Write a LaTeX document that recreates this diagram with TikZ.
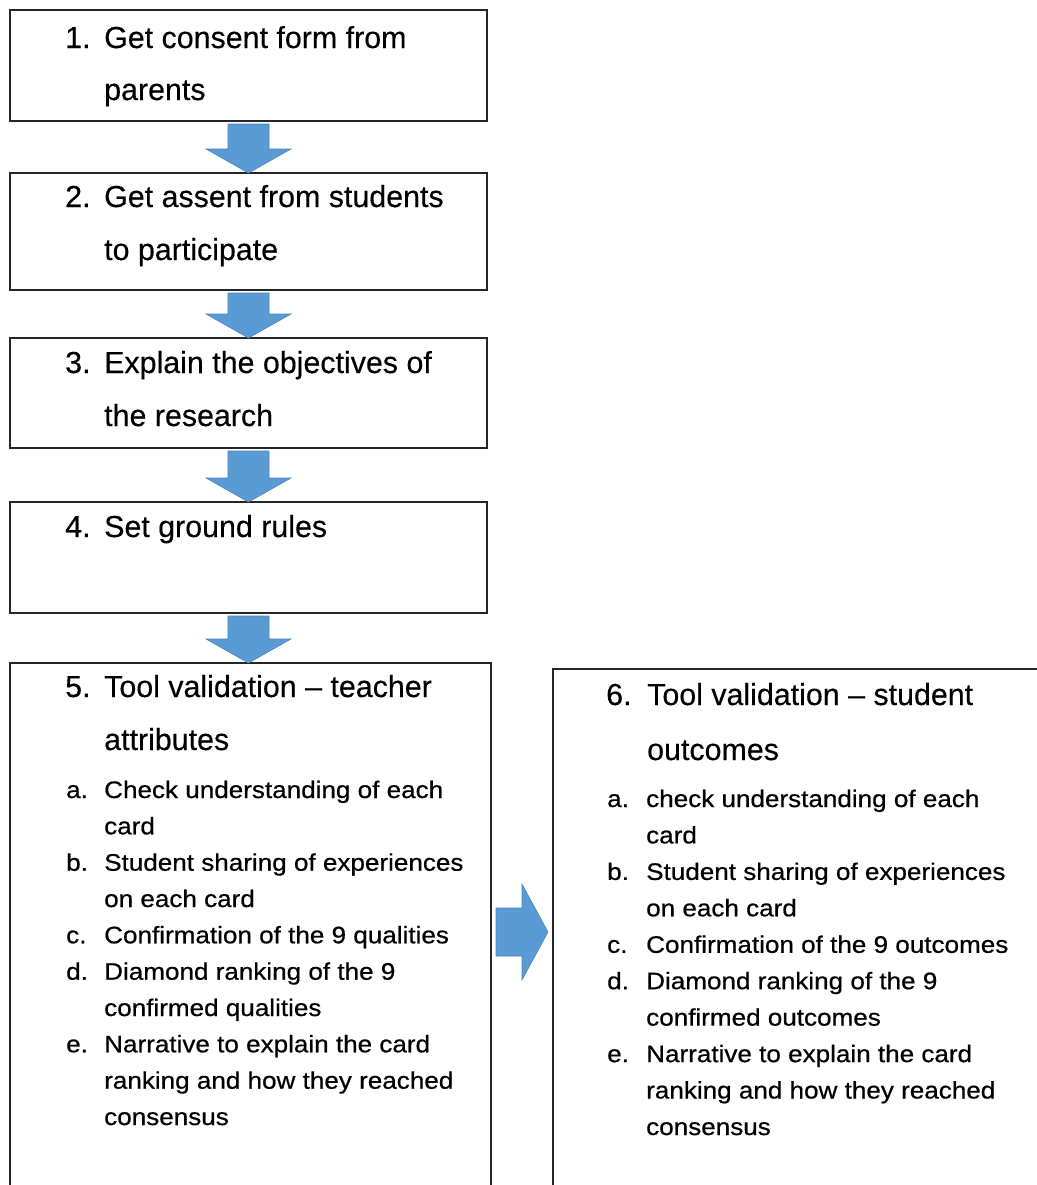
\documentclass[tikz,border=0pt]{standalone}
\usepackage{fontspec}
\setmainfont{Liberation Sans}
\newfontfamily\mainfnt{Liberation Sans}[FakeBold=0.3]
\newfontfamily\subfnt{Liberation Sans}[FakeStretch=1.09,FakeBold=0.6]
\usetikzlibrary{calc}
\definecolor{arrowblue}{HTML}{5B9BD5}
\definecolor{arrowedge}{HTML}{4A84BC}
\tikzset{
  box/.style={draw=black!85, line width=2bp, inner sep=0pt, outer sep=0pt, anchor=north west},
  mainline/.style={anchor=base west, inner sep=0pt, font=\mainfnt\fontsize{30.5}{36}\selectfont},
  subline/.style={anchor=base west, inner sep=0pt, font=\subfnt\fontsize{24}{30}\selectfont},
  blockarrow/.style={fill=arrowblue, draw=arrowedge, line width=0.6bp, line join=miter},
}
% down block arrow from node #1 to node #2
\newcommand{\blockdown}[2]{%
  \path[blockarrow] let \p1=(#1.south), \p2=(#2.north) in
    (\x1-20.5bp,\y1-3bp) -- (\x1+20.5bp,\y1-3bp) -- (\x1+20.5bp,\y2+24bp)
    -- (\x1+42.5bp,\y2+24bp) -- (\x1,\y2) -- (\x1-42.5bp,\y2+24bp)
    -- (\x1-20.5bp,\y2+24bp) -- cycle;}
\begin{document}
\begin{tikzpicture}[x=1bp,y=-1bp]
\useasboundingbox (0,0) rectangle (1037,1185);
\clip (0,0) rectangle (1037,1185);
\fill[white] (0,0) rectangle (1037,1185);
% boxes
\node[box, minimum width=477bp, minimum height=111bp] (b1) at (10,10) {};
\node[box, minimum width=477bp, minimum height=117bp] (b2) at (10,173) {};
\node[box, minimum width=477bp, minimum height=110bp] (b3) at (10,338) {};
\node[box, minimum width=477bp, minimum height=111bp] (b4) at (10,502) {};
\node[box, minimum width=481bp, minimum height=540bp] (b5) at (10,663) {};
\node[box, minimum width=500bp, minimum height=540bp] (b6) at (553,669) {};
% arrows
\blockdown{b1}{b2}
\blockdown{b2}{b3}
\blockdown{b3}{b4}
\blockdown{b4}{b5}
\coordinate (ra) at (b5.east |- 0,932);
\coordinate (rb) at (b6.west |- 0,932);
\path[blockarrow] let \p1=(ra), \p2=(rb) in
  (\x1+5bp,\y1+24bp) -- (\x2-31bp,\y1+24bp) -- (\x2-31bp,\y1+48bp)
  -- (\x2-5bp,\y1) -- (\x2-31bp,\y1-48bp) -- (\x2-31bp,\y1-24bp)
  -- (\x1+5bp,\y1-24bp) -- cycle;
% box 1
\node[mainline] (n1) at (65,48) {1.};
\node[mainline] (t1a) at (104,48) {Get consent form from};
\node[mainline] (t1b) at (104,100) {parents};
% box 2
\node[mainline] (n2) at (65,207) {2.};
\node[mainline] (t2a) at (104,207) {Get assent from students};
\node[mainline] (t2b) at (104,260) {to participate};
% box 3
\node[mainline] (n3) at (65,373) {3.};
\node[mainline] (t3a) at (104,373) {Explain the objectives of};
\node[mainline] (t3b) at (104,426) {the research};
% box 4
\node[mainline] (n4) at (65,537) {4.};
\node[mainline] (t4a) at (104,537) {Set ground rules};
% box 5
\node[mainline] (n5) at (65,697) {5.};
\node[mainline] (t5a) at (104,697) {Tool validation – teacher};
\node[mainline] (t5b) at (104,750) {attributes};
\node[subline] (s5a) at (66,798) {a.};
\node[subline] (s5a1) at (104,798) {Check understanding of each};
\node[subline] (s5a2) at (104,834.3) {card};
\node[subline] (s5b) at (66,870.7) {b.};
\node[subline] (s5b1) at (104,870.7) {Student sharing of experiences};
\node[subline] (s5b2) at (104,907) {on each card};
\node[subline] (s5c) at (66,943.3) {c.};
\node[subline] (s5c1) at (104,943.3) {Confirmation of the 9 qualities};
\node[subline] (s5d) at (66,979.7) {d.};
\node[subline] (s5d1) at (104,979.7) {Diamond ranking of the 9};
\node[subline] (s5d2) at (104,1016) {confirmed qualities};
\node[subline] (s5e) at (66,1052.3) {e.};
\node[subline] (s5e1) at (104,1052.3) {Narrative to explain the card};
\node[subline] (s5e2) at (104,1088.7) {ranking and how they reached};
\node[subline] (s5e3) at (104,1125) {consensus};
% box 6
\node[mainline] (n6) at (606,705) {6.};
\node[mainline] (t6a) at (647,705) {Tool validation – student};
\node[mainline] (t6b) at (647,760) {outcomes};
\node[subline] (s6a) at (607,807) {a.};
\node[subline] (s6a1) at (646,807) {check understanding of each};
\node[subline] (s6a2) at (646,843.4) {card};
\node[subline] (s6b) at (607,879.9) {b.};
\node[subline] (s6b1) at (646,879.9) {Student sharing of experiences};
\node[subline] (s6b2) at (646,916.3) {on each card};
\node[subline] (s6c) at (607,952.8) {c.};
\node[subline] (s6c1) at (646,952.8) {Confirmation of the 9 outcomes};
\node[subline] (s6d) at (607,989.2) {d.};
\node[subline] (s6d1) at (646,989.2) {Diamond ranking of the 9};
\node[subline] (s6d2) at (646,1025.6) {confirmed outcomes};
\node[subline] (s6e) at (607,1062.1) {e.};
\node[subline] (s6e1) at (646,1062.1) {Narrative to explain the card};
\node[subline] (s6e2) at (646,1098.5) {ranking and how they reached};
\node[subline] (s6e3) at (646,1135) {consensus};
\end{tikzpicture}
\end{document}
